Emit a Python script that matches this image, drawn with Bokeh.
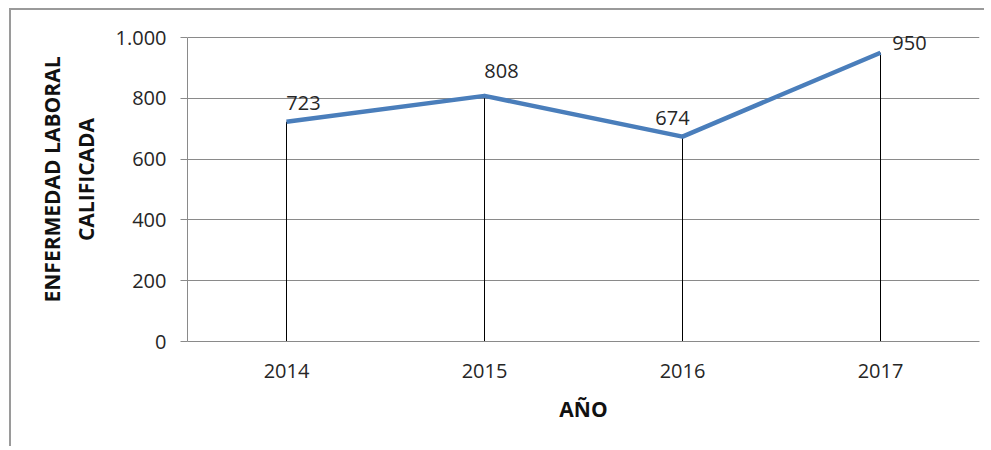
from bokeh.plotting import figure
from bokeh.models import ColumnDataSource, FactorRange, Range1d, FixedTicker, LabelSet
from bokeh.core.properties import value
from bokeh.embed import file_html
from bokeh.resources import INLINE

# ---- data ----
years = ["2014", "2015", "2016", "2017"]
casos = [723, 808, 674, 950]
y_ticks = [0, 200, 400, 600, 800, 1000]
y_tick_labels = ["0", "200", "400", "600", "800", "1.000"]
x_title = "AÑO"
y_title = "ENFERMEDAD LABORAL\nCALIFICADA"

# label placement (screen offsets, style only; positive = up)
lab_dx = [17, 17, -10, 29]
lab_dy = [19, 25, 19, 10]

FONT = "Open Sans"
GRID = "#8a8a8a"
TXT = "#262626"

# layout: axis spans 0..1000 over 304 px; 20 px headroom above for labels
AXIS_PX = 304
HEAD_PX = 20
y_top = y_ticks[-1] * (AXIS_PX + HEAD_PX) / AXIS_PX

src = ColumnDataSource(dict(x=years, y=casos, y0=[0] * len(years),
                            lab=[str(v) for v in casos], dx=lab_dx, dy=lab_dy))

p = figure(width=975, height=438, x_range=FactorRange(*years, range_padding=0),
           y_range=Range1d(0, y_top), output_backend="svg", toolbar_location=None,
           min_border_left=176, min_border_top=27 - HEAD_PX, min_border_right=7,
           min_border_bottom=107)
p.styles = {"border-left": "2px solid #9a9a9a", "border-top": "2px solid #9a9a9a",
            "margin-left": "9px", "margin-top": "8px"}
p.outline_line_color = None
p.background_fill_color = "white"
p.border_fill_color = "white"

# grid
p.xgrid.grid_line_color = None
p.ygrid.grid_line_color = GRID
p.ygrid.grid_line_width = 1
p.yaxis.ticker = FixedTicker(ticks=y_ticks)
p.yaxis.major_label_overrides = {t: l for t, l in zip(y_ticks, y_tick_labels)}
p.yaxis.bounds = (y_ticks[0], y_ticks[-1])

# axes
for ax in (p.xaxis, p.yaxis):
    ax.axis_line_color = GRID
    ax.major_tick_line_color = GRID
    ax.minor_tick_line_color = None
    ax.major_label_text_font = FONT
    ax.major_label_text_font_size = "20px"
    ax.major_label_text_color = TXT
    ax.axis_label_text_font = FONT
    ax.axis_label_text_font_style = "bold"
    ax.axis_label_text_font_size = "21px"
    ax.axis_label_text_color = "#111111"
p.yaxis.major_tick_out = 7
p.yaxis.major_tick_in = 0
p.yaxis.major_label_standoff = 14
p.xaxis.major_tick_out = 0
p.xaxis.major_tick_in = 0
p.xaxis.major_label_standoff = 22
p.xaxis.axis_label = x_title
p.xaxis.axis_label_standoff = 14
p.yaxis.axis_label = y_title
p.yaxis.axis_label_standoff = 13

# drop lines
p.segment(x0="x", y0="y0", x1="x", y1="y", source=src, line_color="black", line_width=1)
# main line
p.line(x="x", y="y", source=src, line_color="#4a7ebb", line_width=4.5, line_join="round")

labels = LabelSet(x="x", y="y", text="lab", source=src, x_offset="dx", y_offset="dy",
                  text_align="center", text_baseline="middle", text_font=value(FONT),
                  text_font_size="20px", text_color=TXT)
p.add_layout(labels)

open("out.html", "w").write(file_html(p, INLINE))
